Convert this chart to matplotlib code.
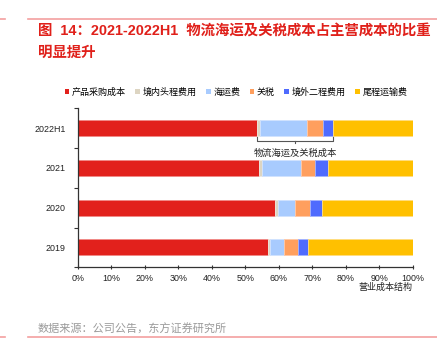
import matplotlib.pyplot as plt
from matplotlib.patches import Patch
import numpy as np

plt.rcParams['font.family'] = ['Liberation Sans', 'Noto Sans CJK SC', 'DejaVu Sans']

# data (share of operating cost, %)
years = ['2019', '2020', '2021', '2022H1']
purchase = [56.9, 58.8, 54.1, 53.5]
domestic = [0.4, 0.9, 0.9, 0.9]
shipping = [4.1, 5.0, 11.6, 14.1]
tariff = [4.2, 4.6, 4.3, 4.6]
overseas = [3.1, 3.6, 3.8, 3.1]
lastmile = [31.3, 27.1, 25.3, 23.8]

names = ['产品采购成本', '境内头程费用', '海运费', '关税', '境外二程费用', '尾程运输费']
colors = ['#E2211C', '#DDD5C2', '#A8CBFE', '#FF9F5E', '#4F6BFE', '#FFC000']
edges = ['#F08A86', '#EEE9DE', '#D0E2FE', '#FFC9A6', '#A3B3FE', '#FFDD80']
series = [purchase, domestic, shipping, tariff, overseas, lastmile]

fig = plt.figure(figsize=(4.37, 3.44), dpi=100)
ax = fig.add_axes([0.1785, 0.223, 0.766, 0.462])

y = np.arange(len(years))
left = np.zeros(len(years))
for vals, c, e, n in zip(series, colors, edges, names):
    ax.barh(y, vals, left=left, height=0.4, color=c, edgecolor=e,
            linewidth=0.6, label=n)
    left += np.array(vals)

ax.set_xlim(0, 100)
ax.set_ylim(-0.5, 3.5)
ax.set_xticks(np.arange(0, 101, 10))
ax.set_xticklabels([f'{v}%' for v in range(0, 101, 10)], fontsize=6.4,
                   color='#222222')
ax.set_yticks(y)
ax.set_yticklabels(years, fontsize=6.4, color='#222222')
ax.set_yticks(np.arange(-0.5, 3.6, 1), minor=True)
ax.tick_params(axis='y', which='major', length=0, pad=9)
ax.tick_params(axis='y', which='minor', length=3, width=0.8, color='#333333')
ax.tick_params(axis='x', length=3, width=0.8, direction='inout', pad=3,
               color='#333333')
for s in ['top', 'right']:
    ax.spines[s].set_visible(False)
for s in ['left', 'bottom']:
    ax.spines[s].set_color('#333333')
    ax.spines[s].set_linewidth(0.9)

ax.set_xlabel('营业成本结构', fontsize=6.5, color='#222222')
ax.xaxis.set_label_coords(1.0, -0.1)
ax.xaxis.label.set_horizontalalignment('right')

# bracket under 2022H1 logistics + tariff segments
i = 3
x0 = purchase[i]
x1 = purchase[i] + domestic[i] + shipping[i] + tariff[i] + overseas[i]
yb = i - 0.32
ax.plot([x0, x0, x1, x1], [i - 0.22, yb, yb, i - 0.22], color='#555555', lw=0.8)
ax.plot([(x0 + x1) / 2] * 2, [yb, yb - 0.06], color='#555555', lw=0.8)
ax.text((x0 + x1) / 2, i - 0.63, '物流海运及关税成本', ha='center', va='center',
        fontsize=6.7, color='#222222')

handles = [Patch(facecolor=c, edgecolor='none') for c in colors]
fig.legend(handles, names, loc='center left', bbox_to_anchor=(0.148, 0.732),
           ncol=6, frameon=False, fontsize=6.5, handlelength=0.5,
           handleheight=0.5, handletextpad=0.3, columnspacing=1.05,
           borderaxespad=0, borderpad=0)

# title, source and frame lines
fig.text(0.086, 1 - 30.7 / 344, '图  14：2021-2022H1  物流海运及关税成本占主营成本的比重',
         fontsize=10.4, color='#E0201A', fontweight='bold', va='center')
fig.text(0.086, 1 - 53.3 / 344, '明显提升', fontsize=10.4, color='#E0201A',
         fontweight='bold', va='center')
fig.text(0.085, 1 - 329 / 344, '数据来源：公司公告，东方证券研究所', fontsize=8,
         color='#9A9A9A', va='center')
for yy in [1 - 19 / 344, 1 - 337.3 / 344]:
    fig.add_artist(plt.Line2D([0.063, 1.0], [yy, yy], color='#F4A0A0', lw=1.2))
    fig.add_artist(plt.Line2D([0.0, 0.012], [yy, yy], color='#F4A0A0', lw=1.2))

fig.savefig('out.png', dpi=100)
